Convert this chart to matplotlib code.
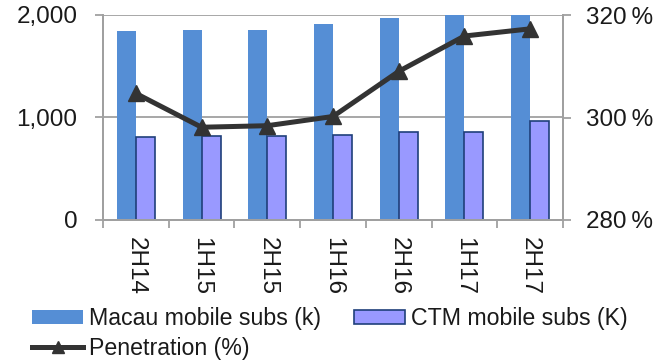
import matplotlib
matplotlib.use("Agg")
import matplotlib.pyplot as plt
import numpy as np
from matplotlib.lines import Line2D
from matplotlib.patches import Patch

plt.rcParams['font.family'] = ['Liberation Sans', 'DejaVu Sans']

periods = ["2H14", "1H15", "2H15", "1H16", "2H16", "1H17", "2H17"]
macau_subs = [1847, 1854, 1857, 1912, 1968, 2040, 2060]
ctm_subs = [813, 822, 822, 832, 855, 855, 969]
penetration = [304.7, 298.1, 298.4, 300.2, 309.0, 315.9, 317.3]

macau_color = "#558ED5"
ctm_color = "#9999FF"
ctm_edge = "#1F3F7A"
line_color = "#333333"
grid_color = "#A0A0A0"
text_color = "#1a1a1a"
tick_fs = 17.5
legend_fs = 16.7
tick_len = 5.8  # points

fig = plt.figure(figsize=(6.7, 3.62), dpi=100)
ax = fig.add_axes([103/670, 1-220/362, 460/670, 205/362])
ax2 = ax.twinx()

x = np.arange(len(periods))
w = 0.29
ax.bar(x - w/2, macau_subs, width=w, color=macau_color, edgecolor="none", zorder=2)
ax.bar(x + w/2, ctm_subs, width=w, color=ctm_color, edgecolor=ctm_edge, linewidth=1.2, zorder=2)

ax.set_xlim(-0.5, len(periods) - 0.5)
ax.set_ylim(0, 2000)
ax.set_yticks([0, 1000, 2000])
ax.set_yticklabels(["0", "1,000", "2,000"])
ax.yaxis.grid(True, color=grid_color, linewidth=1.3, zorder=1)
ax.set_axisbelow(True)

ax.set_xticks(np.arange(-0.5, len(periods)), minor=False)
ax.set_xticklabels([])
ax.set_xticks(x, minor=True)
ax.set_xticklabels(periods, minor=True, rotation=-90, fontsize=tick_fs, color=text_color)
ax.tick_params(axis="x", which="major", length=tick_len, width=1.3, color=grid_color,
               direction="out")
ax.tick_params(axis="x", which="minor", length=0, pad=12)
ax.tick_params(axis="y", length=tick_len, width=1.3, color=grid_color, labelsize=tick_fs,
               labelcolor=text_color, pad=12.5)

ax2.plot(x, penetration, color=line_color, linewidth=3.6, marker="^", markersize=11,
         zorder=3)
ax2.set_ylim(280, 320)
ax2.set_yticks([280, 300, 320])
ax2.set_yticklabels(["280\u2009%", "300\u2009%", "320\u2009%"])
ax2.tick_params(axis="y", length=tick_len, width=1.3, color=grid_color, labelsize=tick_fs,
                labelcolor=text_color, pad=11)

for a in (ax, ax2):
    a.spines["top"].set_visible(False)
    for side in ("left", "right", "bottom"):
        a.spines[side].set_color(grid_color)
        a.spines[side].set_linewidth(1.3)

macau_h = Patch(facecolor=macau_color, edgecolor="none", label="Macau mobile subs (k)")
ctm_h = Patch(facecolor=ctm_color, edgecolor=ctm_edge, linewidth=1.2, label="CTM mobile subs (K)")
pen_h = Line2D([0], [0], color=line_color, linewidth=3.6, marker="^", markersize=8,
               label="Penetration (%)")
leg = fig.legend(handles=[macau_h, pen_h, ctm_h], loc="upper left",
                 bbox_to_anchor=(32/670, 1-307/362),
                 ncol=2, frameon=False, fontsize=legend_fs, handlelength=2.2,
                 handleheight=0.55, handletextpad=0.25, columnspacing=1.45,
                 labelspacing=0.3, borderaxespad=0, borderpad=0)
for t in leg.get_texts():
    t.set_color(text_color)

fig.savefig("out.png", dpi=100)
